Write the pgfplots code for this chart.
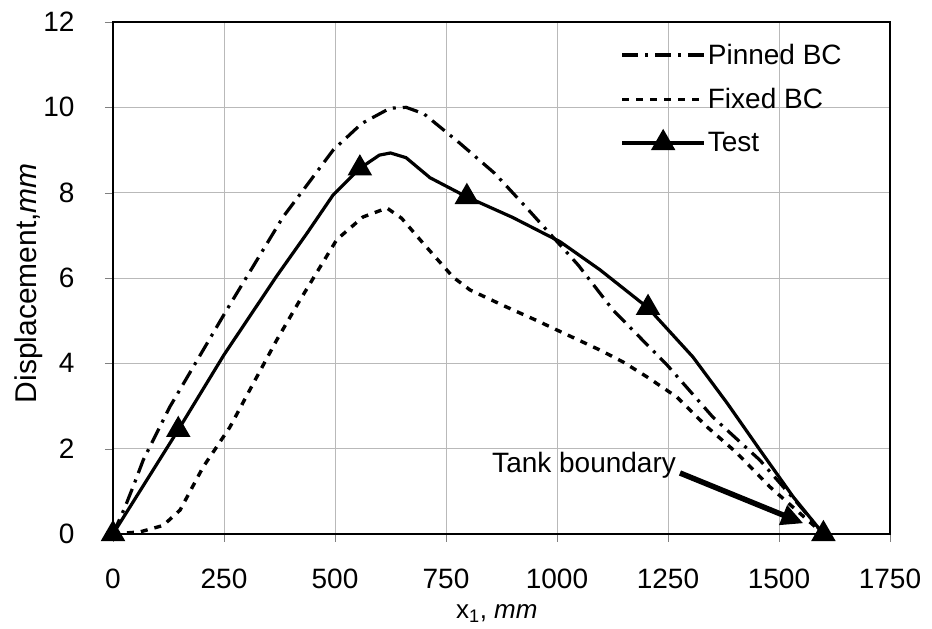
\documentclass[border=0pt]{standalone}
\usepackage{pgfplots}
\pgfplotsset{compat=1.18}
\usepackage{fontspec}
\setmainfont{Liberation Sans}
\usetikzlibrary{arrows.meta}
\pgfplotsset{
  lineleg/.style={legend image code/.code={\draw[##1] (0pt,0pt) -- (82pt,0pt);}},
  testleg/.style={legend image code/.code={\draw[##1, mark=none] (0pt,0pt) -- (82pt,0pt); \draw[##1, mark indices={1}] plot coordinates {(41pt,0pt)};}},
}
\begin{document}
\begin{tikzpicture}
\begin{axis}[
  scale only axis,
  width=777pt, height=512pt,
  xmin=0, xmax=1750, ymin=0, ymax=12,
  xtick={0,250,...,1750}, ytick={0,2,...,12},
  tick align=outside, major tick length=8pt,
  xtick pos=left, ytick pos=left,
  grid=major,
  grid style={gray!55, line width=0.8pt},
  axis line style={black, line width=1.8pt},
  /pgf/number format/assume math mode=true,
  /pgf/number format/1000 sep={},
  tick label style={font=\fontsize{28}{32}\selectfont},
  xticklabel style={yshift=-23pt},
  yticklabel style={xshift=-27pt},
  xlabel={x\textsubscript{1}, \textit{mm}},
  ylabel={Displacement,\textit{mm}},
  every axis x label/.style={at={(axis description cs:0.494,-0.156)},anchor=center,font=\fontsize{26}{30}\selectfont},
  every axis y label/.style={at={(axis description cs:-0.108,0.49)},rotate=90,anchor=center,font=\fontsize{30}{34}\selectfont},
  legend style={at={(0.649,0.965)}, anchor=north west, draw=none, fill=none,
    font=\fontsize{28}{32}\selectfont, row sep=18.5pt,
    legend cell align=left},
  lineleg,
]
\addplot[black, line width=3.2pt, dash pattern=on 16pt off 7pt on 3pt off 7pt] coordinates {
(0,0) (27,0.63) (45,1.1) (68,1.73) (128,2.98) (256,5.25) (383,7.43) (496,9.0)
(560,9.62) (624,9.98) (660,10.0) (700,9.85) (781,9.16) (860,8.45) (932,7.64)
(1048,6.3) (1126,5.25) (1248,3.96) (1351,2.74) (1457,1.73) (1541,0.73) (1600,0)};
\addlegendentry{Pinned BC}
\addplot[black, line width=3.4pt, dash pattern=on 7pt off 7pt] coordinates {
(0,0) (61,0.05) (113,0.2) (151,0.56) (203,1.57) (263,2.5) (316,3.53) (369,4.55)
(421,5.48) (504,6.9) (563,7.43) (617,7.64) (650,7.4) (698,6.82) (766,6.02)
(804,5.72) (880,5.35) (955,5.0) (1000,4.78) (1097,4.31) (1149,4.03) (1203,3.68)
(1270,3.21) (1338,2.51) (1405,1.9) (1480,1.1) (1600,0)};
\addlegendentry{Fixed BC}
\addplot[black, line width=3.2pt, mark=triangle*, mark size=11pt,
  mark options={solid, fill=black}, mark indices={1,2,7,12,16,21}, testleg] coordinates {
(0,0) (147,2.44) (250,4.2) (369,6.05) (437,7.05) (496,7.95) (556,8.57) (600,8.88)
(625,8.93) (660,8.82) (714,8.35) (797,7.9) (900,7.42) (1007,6.85) (1097,6.19)
(1205,5.3) (1306,4.15) (1383,3.07) (1457,1.97) (1532,0.87) (1600,0)};
\addlegendentry{Test}
\node[font=\fontsize{28}{32}\selectfont] at (axis cs:1061,1.6) {Tank boundary};
\draw[line width=5.5pt, -{Triangle[length=22pt,width=20pt]}] (axis cs:1277,1.43) -- (axis cs:1555,0.25);
\end{axis}
\path ([xshift=-113pt,yshift=-95pt]current axis.south west) rectangle ([xshift=42pt,yshift=22pt]current axis.north east);
\end{tikzpicture}
\end{document}
